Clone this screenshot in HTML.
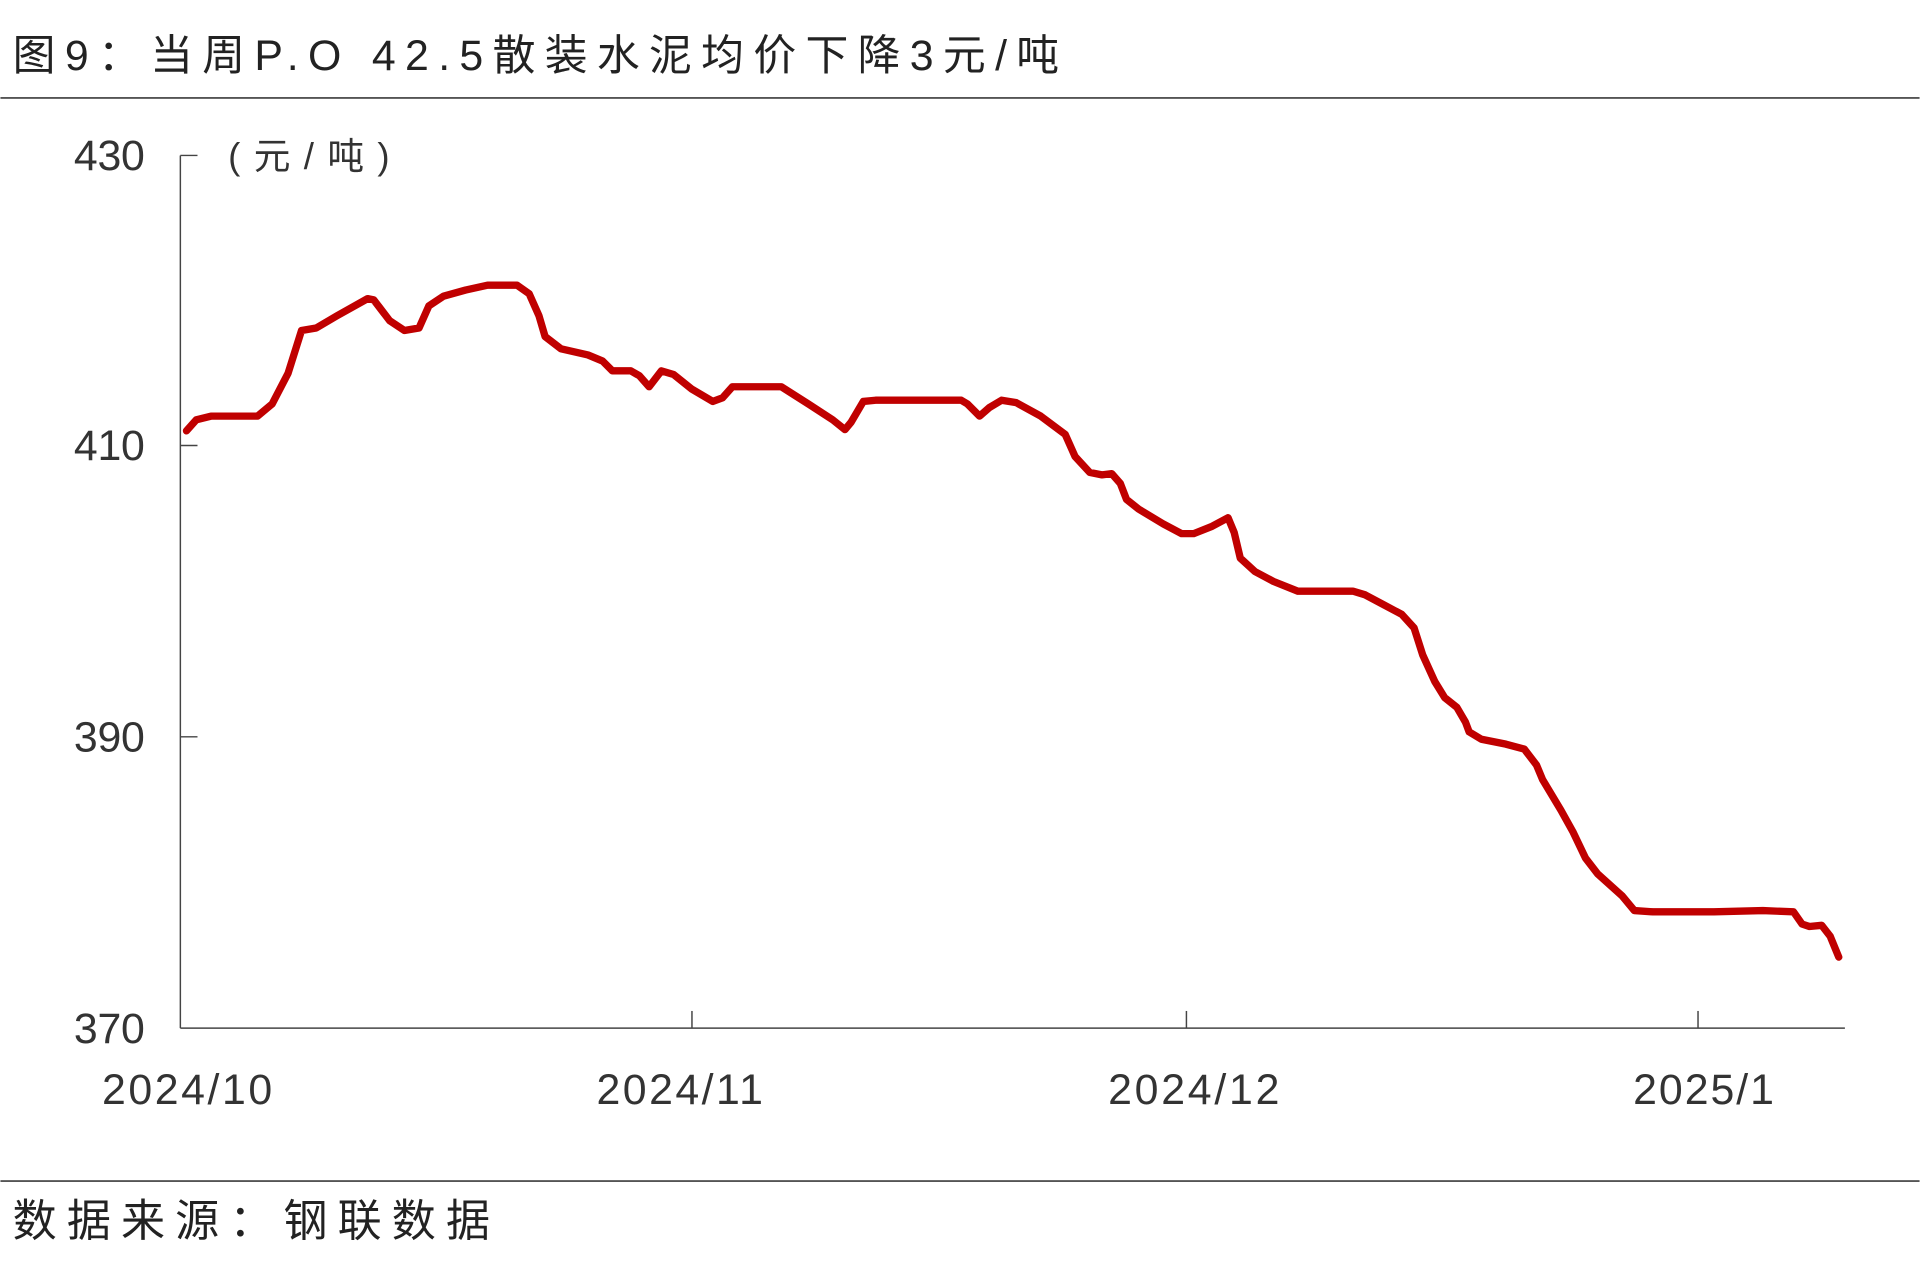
<!DOCTYPE html>
<html><head><meta charset="utf-8"><style>
html,body{margin:0;padding:0;background:#fff;}
svg{display:block;}
text{font-family:"Liberation Sans","Noto Sans CJK SC",sans-serif;}
</style></head><body>
<svg width="1920" height="1279" viewBox="0 0 1568 1045" xmlns="http://www.w3.org/2000/svg">
<rect width="1568" height="1045" fill="#fff"/>
<text x="10" y="57" font-size="35" fill="#222" textLength="855" lengthAdjust="spacing" font-family="'Noto Sans CJK SC',sans-serif">图9：当周P.O 42.5散装水泥均价下降3元/吨</text>
<line x1="0" y1="80" x2="1568" y2="80" stroke="#555" stroke-width="1.5"/>
<line x1="0" y1="965" x2="1568" y2="965" stroke="#555" stroke-width="1.5"/>
<text x="10" y="1010" font-size="36" fill="#222" textLength="390" lengthAdjust="spacing" font-family="'Noto Sans CJK SC',sans-serif">数据来源：钢联数据</text>
<g stroke="#444" stroke-width="1.2" fill="none">
<line x1="147" y1="127" x2="147" y2="840"/>
<line x1="147" y1="840" x2="1507" y2="840"/>
<line x1="147" y1="127" x2="161" y2="127"/>
<line x1="147" y1="364" x2="161" y2="364"/>
<line x1="147" y1="602" x2="161" y2="602"/>
<line x1="565" y1="840" x2="565" y2="826"/>
<line x1="969" y1="840" x2="969" y2="826"/>
<line x1="1387" y1="840" x2="1387" y2="826"/>
</g>
<g font-size="35" fill="#333">
<text x="60" y="139" textLength="58">430</text>
<text x="60" y="376" textLength="58">410</text>
<text x="60" y="614" textLength="58">390</text>
<text x="60" y="852" textLength="58">370</text>
</g>
<text x="186" y="138" font-size="30" fill="#333" textLength="132" lengthAdjust="spacing" font-family="'Noto Sans CJK SC',sans-serif">(元/吨)</text>
<g font-size="35" fill="#333">
<text x="83" y="902" textLength="139">2024/10</text>
<text x="487" y="902" textLength="136">2024/11</text>
<text x="905" y="902" textLength="140">2024/12</text>
<text x="1334" y="902" textLength="115">2025/1</text>
</g>
<polyline fill="none" stroke="#c00000" stroke-width="6" stroke-linejoin="round" stroke-linecap="round" points="152,352 160,343 172,340 190,340 210,340 222,330 235,305 246,270 258,268 275,258 300,244 305,245 318,262 330,270 342,268 350,250 362,242 380,237 398,233 422,233 432,240 440,258 445,275 458,285 480,290 492,295 500,303 515,303 522,307 530,316 540,303 550,306 565,318 582,328 590,325 598,316 615,316 638,316 660,330 680,343 690,351 695,345 705,328 715,327 760,327 785,327 790,330 800,340 808,333 818,327 830,329 850,340 870,355 878,373 890,386 900,388 908,387 915,395 920,408 930,416 950,428 965,436 975,436 990,430 1003,423 1008,435 1013,456 1025,467 1040,475 1060,483 1075,483 1105,483 1115,486 1130,494 1145,502 1155,513 1162,535 1172,557 1180,570 1190,578 1197,590 1200,598 1210,604 1230,608 1245,612 1255,625 1260,637 1275,662 1285,680 1295,701 1305,714 1325,732 1335,744 1350,745 1400,745 1440,744 1465,745 1472,755 1478,757 1488,756 1495,765 1502,782"/>
</svg>
</body></html>
